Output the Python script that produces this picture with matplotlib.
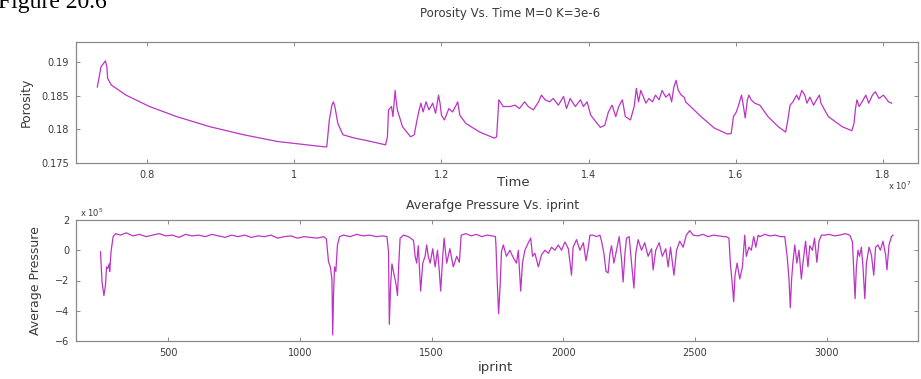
import matplotlib
matplotlib.use("Agg")
import matplotlib.pyplot as plt

# ---------------- data ----------------
# Top panel: time in units of 1e7, porosity
time_e7 = [0.732, 0.737, 0.739, 0.743, 0.745, 0.746, 0.751, 0.771, 0.803, 0.840,
           0.885, 0.931, 0.977, 1.041, 1.044, 1.0475, 1.051, 1.053, 1.055, 1.059,
           1.066, 1.082, 1.100, 1.124, 1.1265, 1.128, 1.132, 1.134, 1.137, 1.138,
           1.140, 1.147, 1.158, 1.163, 1.165, 1.169, 1.172, 1.175, 1.179, 1.183,
           1.188, 1.192, 1.196, 1.198, 1.200, 1.204, 1.210, 1.215, 1.220, 1.222,
           1.225, 1.233, 1.252, 1.272, 1.275, 1.278, 1.284, 1.293, 1.300, 1.306,
           1.313, 1.318, 1.325, 1.332, 1.336, 1.341, 1.347, 1.352, 1.359, 1.366,
           1.370, 1.375, 1.382, 1.389, 1.393, 1.398, 1.403, 1.416, 1.422, 1.427,
           1.432, 1.437, 1.441, 1.446, 1.450, 1.457, 1.462, 1.465, 1.468, 1.471,
           1.478, 1.482, 1.487, 1.491, 1.496, 1.500, 1.505, 1.510, 1.513, 1.516,
           1.519, 1.522, 1.526, 1.530, 1.532, 1.553, 1.571, 1.589, 1.594, 1.597,
           1.601, 1.604, 1.608, 1.610, 1.613, 1.616, 1.618, 1.621, 1.626, 1.633,
           1.644, 1.658, 1.668, 1.671, 1.674, 1.678, 1.683, 1.686, 1.690, 1.694,
           1.697, 1.701, 1.706, 1.711, 1.714, 1.716, 1.726, 1.745, 1.758, 1.761,
           1.763, 1.765, 1.768, 1.772, 1.777, 1.781, 1.786, 1.790, 1.795, 1.801,
           1.808, 1.812]
porosity = [0.1863, 0.1893, 0.1896, 0.1902, 0.1893, 0.1876, 0.1866, 0.1851, 0.1834, 0.1819,
            0.1804, 0.1792, 0.1782, 0.1774, 0.1774, 0.1814, 0.1836, 0.1841, 0.1834, 0.1809,
            0.1792, 0.1787, 0.1783, 0.1777, 0.1789, 0.1829, 0.1834, 0.1819, 0.1858, 0.1846,
            0.1829, 0.1804, 0.1789, 0.1792, 0.1804, 0.1826, 0.1839, 0.1826, 0.1841, 0.1829,
            0.1839, 0.1824, 0.1851, 0.1839, 0.1821, 0.1814, 0.1831, 0.1826, 0.1836, 0.1841,
            0.1821, 0.1809, 0.1796, 0.1787, 0.1789, 0.1844, 0.1834, 0.1834, 0.1836, 0.1831,
            0.1841, 0.1834, 0.1829, 0.1841, 0.1851, 0.1844, 0.1841, 0.1846, 0.1836, 0.1849,
            0.1831, 0.1846, 0.1834, 0.1844, 0.1834, 0.1841, 0.1821, 0.1803, 0.1806, 0.1826,
            0.1836, 0.1819, 0.1834, 0.1844, 0.1819, 0.1814, 0.1834, 0.1861, 0.1841, 0.1858,
            0.1839, 0.1846, 0.1841, 0.1851, 0.1844, 0.1858, 0.1848, 0.1853, 0.1841, 0.1863,
            0.1873, 0.1858, 0.1851, 0.1848, 0.1841, 0.1819, 0.1802, 0.1793, 0.1794, 0.1819,
            0.1826, 0.1836, 0.1851, 0.1839, 0.1817, 0.1844, 0.1851, 0.1844, 0.1839, 0.1836,
            0.1819, 0.1804, 0.1796, 0.1814, 0.1836, 0.1841, 0.1851, 0.1844, 0.1858, 0.1851,
            0.1839, 0.1848, 0.1836, 0.1846, 0.1851, 0.1839, 0.1819, 0.1804, 0.1798, 0.1809,
            0.1831, 0.1844, 0.1834, 0.1841, 0.1851, 0.1839, 0.1851, 0.1856, 0.1846, 0.1851,
            0.1841, 0.1839]

# Bottom panel: iprint, average pressure (units of 1e5)
iprint = [242, 248, 255, 261, 265, 270, 275, 277, 282, 290,
          299, 318, 340, 365, 390, 415, 440, 465, 490, 515,
          540, 565, 590, 615, 640, 665, 690, 715, 740, 765,
          790, 815, 840, 865, 890, 915, 940, 965, 990, 1015,
          1040, 1065, 1090, 1100, 1108, 1115, 1121, 1124, 1127, 1131,
          1136, 1142, 1150, 1165, 1190, 1215, 1240, 1265, 1290, 1315,
          1330, 1336, 1339, 1344, 1349, 1357, 1365, 1370, 1375, 1380,
          1393, 1412, 1431, 1437, 1443, 1449, 1458, 1466, 1475, 1481,
          1487, 1494, 1504, 1513, 1522, 1529, 1534, 1542, 1547, 1557,
          1569, 1582, 1595, 1605, 1612, 1630, 1650, 1670, 1690, 1710,
          1730, 1742, 1744, 1749, 1754, 1760, 1765, 1772, 1784, 1797,
          1810, 1822, 1829, 1838, 1845, 1854, 1867, 1876, 1883, 1892,
          1905, 1917, 1930, 1943, 1955, 1968, 1981, 1993, 2006, 2019,
          2031, 2037, 2050, 2063, 2076, 2086, 2094, 2101, 2113, 2126,
          2139, 2145, 2154, 2162, 2170, 2177, 2183, 2192, 2202, 2212,
          2221, 2227, 2234, 2240, 2250, 2259, 2268, 2275, 2284, 2297,
          2309, 2322, 2335, 2341, 2351, 2364, 2376, 2389, 2398, 2407,
          2420, 2430, 2442, 2455, 2467, 2480, 2493, 2510, 2530, 2550,
          2570, 2590, 2610, 2619, 2629, 2634, 2642, 2647, 2652, 2660,
          2670, 2680, 2689, 2695, 2705, 2714, 2723, 2731, 2740, 2746,
          2765, 2785, 2805, 2825, 2841, 2850, 2857, 2862, 2867, 2872,
          2879, 2887, 2895, 2904, 2910, 2920, 2929, 2936, 2946, 2954,
          2963, 2971, 2980, 2992, 3010, 3030, 3050, 3070, 3088, 3098,
          3103, 3108, 3113, 3119, 3125, 3132, 3138, 3145, 3151, 3161,
          3170, 3179, 3186, 3195, 3204, 3214, 3224, 3229, 3237, 3246,
          3252]
pressure = [-0.1, -2.1, -3.0, -2.3, -1.1, -1.2, -0.9, -1.4, -0.1, 0.9,
            1.1, 1.0, 1.15, 0.95, 1.05, 0.9, 1.0, 1.1, 0.95, 1.0,
            0.85, 1.05, 0.95, 1.0, 0.9, 1.05, 0.95, 0.85, 1.0, 0.9,
            1.0, 0.85, 0.95, 0.9, 1.0, 0.8, 0.9, 0.95, 0.8, 0.9,
            0.85, 0.8, 0.9, 0.75, -0.75, -1.1, -1.9, -5.6, -3.0, -1.1,
            -1.4, 0.35, 0.9, 1.0, 0.9, 1.05, 0.95, 1.0, 0.9, 0.95,
            0.9, -0.1, -4.9, -2.3, -0.9, -1.6, -2.3, -3.0, -0.9, 0.8,
            1.0, 0.9, 0.65, -0.4, -0.85, 0.3, -2.7, -0.85, -0.4, 0.35,
            -0.4, -0.85, 0.1, -1.1, 0.0, -1.4, -2.7, -0.4, 0.8, -0.85,
            0.1, -1.1, -0.4, -0.8, 1.0, 1.1, 0.95, 1.05, 0.9, 1.0,
            0.95, 0.9, 0.35, -2.1, -4.2, -2.3, -0.1, 0.35, -0.4, 0.0,
            -0.5, -0.85, 0.0, -2.7, -0.8, 0.0, 0.5, 0.8, -0.4, -0.2,
            -1.1, -0.3, 0.0, -0.2, 0.2, 0.0, 0.35, 0.0, 0.55, 0.1,
            -1.65, 0.2, 0.7, 0.0, 0.5, -0.7, 0.1, 1.0, 1.0, 0.9,
            1.0, 0.6, -0.2, -1.4, -1.5, -0.2, 0.3, -0.85, 0.0, 0.9,
            -0.6, -2.1, -0.2, 0.8, 0.9, -0.85, -2.5, -0.2, 0.7, 0.0,
            0.5, -0.4, 0.1, -1.3, 0.0, 0.5, -0.4, 0.1, -1.1, 0.2,
            -1.65, 0.0, 0.6, 0.2, 1.0, 1.3, 1.0, 0.95, 1.05, 0.9,
            1.0, 0.95, 0.9, 0.9, 0.8, -0.8, -2.3, -3.4, -1.65, -0.85,
            -1.9, -1.1, 1.0, -0.4, 0.2, 0.0, 0.9, 0.2, 1.0, 0.9,
            1.05, 0.95, 1.0, 0.9, 0.9, -0.4, -1.9, -3.8, -1.9, -0.8,
            0.35, -0.85, 0.0, -1.9, -0.85, 0.6, -1.1, 0.3, 0.0, 0.8,
            -0.8, 0.6, 1.0, 1.0, 1.05, 0.95, 1.0, 1.1, 1.0, 0.55,
            -1.3, -3.2, -1.1, 0.0, -0.4, 0.2, -1.1, -3.2, -0.85, 0.2,
            -0.3, -1.65, 0.2, 0.35, 0.0, 0.6, -0.3, -1.3, 0.35, 0.9,
            1.0]

time_ticks = [0.8, 1.0, 1.2, 1.4, 1.6, 1.8]
time_ticklabels = ["0.8", "1", "1.2", "1.4", "1.6", "1.8"]
por_ticks = [0.175, 0.18, 0.185, 0.19]
por_ticklabels = ["0.175", "0.18", "0.185", "0.19"]
ip_ticks = [500, 1000, 1500, 2000, 2500, 3000]
pr_ticks = [-6, -4, -2, 0, 2]

# ---------------- figure ----------------
W, H = 921, 379
fig = plt.figure(figsize=(W / 100, H / 100), dpi=100)
fig.patch.set_facecolor("white")

def fx(px):
    return px / W

def fy(py):
    return 1 - py / H

line_col = "#bb34c4"
txt_col = "#3a3a3a"
frame_col = "#8a8a8a"

ax1 = fig.add_axes([fx(76), fy(163), fx(918 - 76), (163 - 42) / H])
ax2 = fig.add_axes([fx(76), fy(341), fx(918 - 76), (341 - 220) / H])

for ax in (ax1, ax2):
    for s in ax.spines.values():
        s.set_color(frame_col)
        s.set_linewidth(0.9)
    ax.tick_params(direction="in", length=3, width=0.7, colors=frame_col,
                   labelcolor=txt_col, labelsize=7, top=True, right=True, pad=5)

ax1.plot(time_e7, porosity, color=line_col, lw=0.9)
ax1.set_xlim(0.703, 1.848)
ax1.set_ylim(0.175, 0.193)
ax1.set_xticks(time_ticks)
ax1.set_xticklabels(time_ticklabels)
ax1.set_yticks(por_ticks)
ax1.set_yticklabels(por_ticklabels)
ax1.set_ylabel("Porosity", fontsize=9, color=txt_col, labelpad=6)

ax2.plot(iprint, pressure, color=line_col, lw=0.9)
ax2.set_xlim(149, 3347)
ax2.set_ylim(-6, 2)
ax2.set_xticks(ip_ticks)
ax2.set_yticks(pr_ticks)
ax2.set_ylabel("Average Pressure", fontsize=9, color=txt_col, labelpad=9)

# texts
fig.text(fx(510), fy(14), "Porosity Vs. Time M=0 K=3e-6", ha="center", va="center",
         fontsize=8.5, color=txt_col)
fig.text(fx(513), fy(183), "Time", ha="center", va="center", fontsize=9.5, color=txt_col)
fig.text(fx(900), fy(186), r"x 10$^{7}$", ha="center", va="center", fontsize=6,
         color=txt_col)
fig.text(fx(493), fy(206), "Averafge Pressure Vs. iprint", ha="center", va="center",
         fontsize=9, color=txt_col)
fig.text(fx(92), fy(213), r"x 10$^{5}$", ha="center", va="center", fontsize=6,
         color=txt_col)
fig.text(fx(495), fy(367), "iprint", ha="center", va="center", fontsize=9.5, color=txt_col)
fig.text(fx(-2), fy(8), "Figure 20.6", ha="left", va="baseline", fontsize=17,
         family=["Liberation Serif", "DejaVu Serif"], color="black")

fig.savefig("out.png", dpi=100, facecolor="white")
